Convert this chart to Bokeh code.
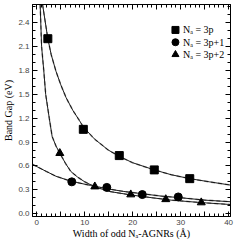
from bokeh.plotting import figure
from bokeh.models import (LinearAxis, FixedTicker, PrintfTickFormatter, Range1d,
                          Label, CustomLabelingPolicy)
from bokeh.embed import file_html
from bokeh.resources import INLINE

# ---- data ----
sq_x = [2.3, 9.7, 17.2, 24.5, 31.9]
sq_y = [2.20, 1.06, 0.73, 0.55, 0.44]
ci_x = [7.3, 14.6, 22.0, 29.5]
ci_y = [0.40, 0.33, 0.24, 0.21]
tr_x = [4.8, 12.1, 19.6, 26.9, 34.3]
tr_y = [0.76, 0.34, 0.24, 0.18, 0.14]

sq_fit_x = [1.2, 2.3, 3, 4, 5, 6.1, 7.5, 8.9, 9.7, 12, 14.9, 17.2, 20, 24.5, 28, 31.9, 36, 40.3]
sq_fit_y = [2.63, 2.2, 2.0, 1.79, 1.62, 1.46, 1.30, 1.17, 1.09, 0.94, 0.80, 0.72, 0.64, 0.55, 0.49, 0.44, 0.40, 0.36]
ci_fit_x = [-0.9, 2, 4, 7, 10, 14, 18, 22, 26, 30, 35, 40.3]
ci_fit_y = [0.62, 0.53, 0.47, 0.41, 0.37, 0.32, 0.28, 0.25, 0.22, 0.20, 0.17, 0.15]
tr_fit_x = [0.7, 1.0, 1.45, 1.85, 2.6, 3.2, 4.0, 4.8, 6, 7.1, 8.5, 10, 12, 15, 19.6, 24, 28, 34, 40.3]
tr_fit_y = [2.63, 2.1, 1.8, 1.5, 1.2, 0.97, 0.85, 0.76, 0.63, 0.53, 0.46, 0.40, 0.34, 0.28, 0.235, 0.20, 0.17, 0.14, 0.115]

x_major = [0, 5, 10, 15, 20, 25, 30, 35, 40]
x_minor = list(range(0, 41))
y_major = [0.0, 0.3, 0.6, 0.9, 1.2, 1.5, 1.8, 2.1, 2.4]
y_minor = [0.0, 0.1, 0.2, 0.3, 0.4, 0.5, 0.6, 0.7, 0.8, 0.9, 1.0, 1.1, 1.2, 1.3,
           1.4, 1.5, 1.6, 1.7, 1.8, 1.9, 2.0, 2.1, 2.2, 2.3, 2.4, 2.5, 2.6]
labels = ["N\u2090 = 3p", "N\u2090 = 3p+1", "N\u2090 = 3p+2"]
markers = ["square", "circle", "triangle"]
x_title = "Width of odd N\u2090-AGNRs (\u00c5)"
y_title = "Band Gap (eV)"

# legend placement (fractions of the plot frame)
leg_x = 0.722
leg_rows = [0.88, 0.822, 0.764]

p = figure(width=234, height=241, output_backend="svg", toolbar_location=None,
           x_range=Range1d(-0.9, 40.4), y_range=Range1d(-0.036, 2.63),
           min_border_left=23, min_border_right=2, min_border_top=1,
           min_border_bottom=22)
p.extra_x_ranges = {"lx": Range1d(0, 1)}
p.extra_y_ranges = {"ly": Range1d(0, 1)}
p.background_fill_color = "white"
p.border_fill_color = "white"
p.outline_line_color = "black"
p.outline_line_width = 1
p.xgrid.visible = False
p.ygrid.visible = False

serif = "Liberation Serif"
sans = "Liberation Sans"

hide_all = CustomLabelingPolicy(code="""
const out = indices.clone ? indices.clone() : indices;
try { for (const i of [...indices]) { out.unset(i) } } catch (e) {}
return out;
""")

def style(ax, show):
    ax.axis_line_color = "black"
    ax.major_tick_in = 5
    ax.major_tick_out = 0
    ax.minor_tick_in = 3
    ax.minor_tick_out = 0
    ax.major_tick_line_color = "black"
    ax.minor_tick_line_color = "black"
    if show:
        ax.major_label_text_font = sans
        ax.major_label_text_font_size = "8px"
        ax.major_label_text_color = "#444444"
        ax.axis_label_text_font = serif
        ax.axis_label_text_font_style = "normal"
        ax.axis_label_text_color = "black"
    else:
        ax.major_label_policy = hide_all
        ax.major_label_text_font_size = "1px"
        ax.major_label_standoff = 0

xt = FixedTicker(ticks=x_major, minor_ticks=x_minor)
yt = FixedTicker(ticks=y_major, minor_ticks=y_minor)
xo = {5: "", 15: "", 25: "", 35: ""}

p.xaxis.ticker = xt
p.xaxis.formatter = PrintfTickFormatter(format="%d")
p.xaxis.major_label_overrides = xo
p.xaxis.axis_label = x_title
p.xaxis.axis_label_text_font_size = "10px"
p.xaxis.axis_label_standoff = 0
p.xaxis.major_label_standoff = 3
style(p.xaxis[0], True)

p.yaxis.ticker = yt
p.yaxis.formatter = PrintfTickFormatter(format="%.1f")
p.yaxis.axis_label = y_title
p.yaxis.axis_label_text_font_size = "10px"
p.yaxis.axis_label_standoff = 1
p.yaxis.major_label_standoff = 3
style(p.yaxis[0], True)

top = LinearAxis(ticker=xt)
style(top, False)
p.add_layout(top, "above")
right = LinearAxis(ticker=yt)
style(right, False)
p.add_layout(right, "right")

for fx, fy in [(sq_fit_x, sq_fit_y), (ci_fit_x, ci_fit_y), (tr_fit_x, tr_fit_y)]:
    p.line(fx, fy, line_color="#9a9a9a", line_width=1.6, line_dash="4 3")
    p.line(fx, fy, line_color="black", line_width=0.9)

p.scatter(sq_x, sq_y, marker="square", size=8, color="black")
p.scatter(ci_x, ci_y, marker="circle", size=8, color="black")
p.scatter(tr_x, tr_y, marker="triangle", size=8, color="black")

# legend drawn by hand so that the subscripted labels are not clipped
p.scatter([leg_x] * 3, leg_rows, marker=markers, size=7, color="black",
          x_range_name="lx", y_range_name="ly")
for lab, yy in zip(labels, leg_rows):
    p.add_layout(Label(x=leg_x + 0.038, y=yy, text=lab, x_range_name="lx",
                       y_range_name="ly", text_font=serif, text_font_size="10px",
                       text_baseline="middle", text_color="black"))

open("out.html", "w").write(file_html(p, INLINE))
